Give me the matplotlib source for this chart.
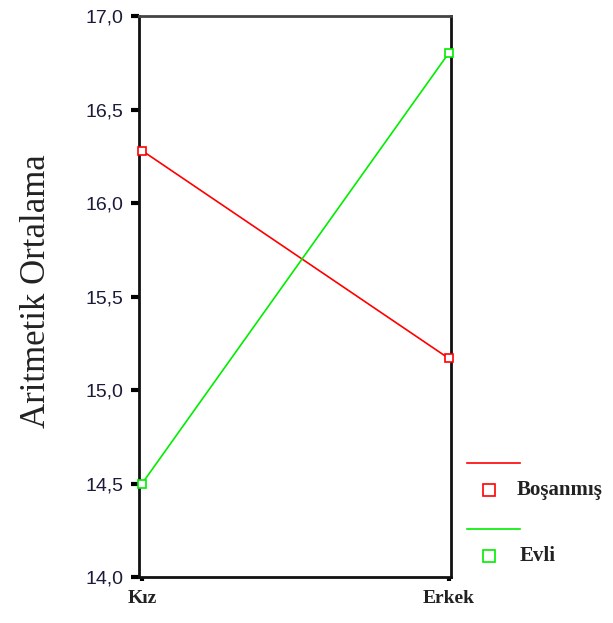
import numpy as np
import matplotlib.pyplot as plt
from matplotlib.lines import Line2D

# Veriler
categories = ["Kız", "Erkek"]
series_names = ["Boşanmış", "Evli"]
bosanmis = [16.28, 15.17]
evli = [14.50, 16.80]
colors = ["#ff0000", "#00ee00"]
y_ticks = [14.0, 14.5, 15.0, 15.5, 16.0, 16.5, 17.0]

fig = plt.figure(figsize=(6.13, 6.23), dpi=100)
ax = fig.add_axes([0.2268, 0.0738, 0.5089, 0.9005])

x = np.arange(len(categories))
for vals, col in zip([bosanmis, evli], colors):
    ax.plot(x, vals, color=col, linewidth=1.2, marker="s", markersize=6,
            markerfacecolor="white", markeredgecolor=col, markeredgewidth=1.2,
            clip_on=False, zorder=3)

ax.set_xlim(-0.01, 1.008)
ax.set_ylim(14.0, 17.0)
ax.set_yticks(y_ticks)
ax.set_yticklabels([f"{v:.1f}".replace(".", ",") for v in y_ticks],
                   fontfamily="Liberation Sans", fontsize=14, color="#1a1a3a")
ax.set_xticks(x)
ax.set_xticklabels(categories, fontfamily="Liberation Serif", fontsize=14,
                   fontweight="bold", color="#222222")
ax.tick_params(axis="y", direction="out", length=6, width=3, pad=5)
ax.tick_params(axis="x", direction="out", length=3, width=3, pad=6)

for side in ["left", "bottom", "right"]:
    ax.spines[side].set_linewidth(2)
    ax.spines[side].set_color("#111111")
ax.spines["top"].set_linewidth(2)
ax.spines["top"].set_color("#444444")

ax.set_ylabel("Aritmetik Ortalama", fontfamily="Liberation Serif", fontsize=25,
              color="#222222")
ax.yaxis.set_label_coords(-0.275, 0.51)

# SPSS tarzı açıklama (çizgi üstte, işaret altta)
def W(px):
    return px / 613.0

def H(py):
    return 1 - py / 623.0

for i, (name, col) in enumerate(zip(series_names, colors)):
    ly = 463 + i * 66
    my = 490 + i * 66
    fig.add_artist(Line2D([W(467), W(520)], [H(ly), H(ly)], color=col, linewidth=1.2))
    fig.add_artist(Line2D([W(489)], [H(my)], color=col, marker="s", markersize=8,
                          markerfacecolor="white", markeredgecolor=col,
                          markeredgewidth=1.2, linestyle="none"))
    fig.text(W(517 if i == 0 else 520), H(my), name, fontfamily="Liberation Serif",
             fontsize=15, fontweight="bold", color="#222222", va="center", ha="left")

fig.savefig("out.png", dpi=100)
